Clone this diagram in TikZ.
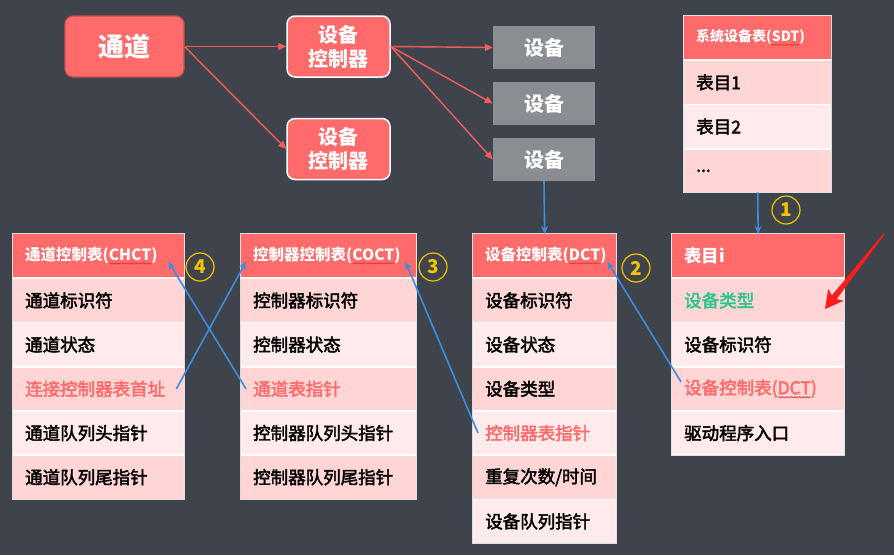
\documentclass[tikz,border=0pt]{standalone}
\usepackage{fontspec}
\setmainfont{Noto Sans CJK SC}
\newfontfamily\bodyfont{Noto Sans CJK SC}[FakeBold=2.4]
\usetikzlibrary{arrows.meta,calc,decorations.pathmorphing}

\definecolor{bgc}{RGB}{63,67,75}
\definecolor{hdr}{RGB}{255,107,107}
\definecolor{hdrline}{RGB}{196,78,78}
\definecolor{rowdk}{RGB}{255,213,213}
\definecolor{rowlt}{RGB}{255,235,235}
\definecolor{devgray}{RGB}{138,142,146}
\definecolor{linkred}{RGB}{240,94,94}
\definecolor{ptrblue}{RGB}{58,142,226}
\definecolor{markyel}{RGB}{242,196,0}
\definecolor{typegreen}{RGB}{44,196,140}
\definecolor{alertred}{RGB}{255,28,28}
\definecolor{framegray}{RGB}{222,222,226}
\definecolor{spellred}{RGB}{230,40,40}

% red wavy spell-check underline below a word
\newlength\spellwd
\newcommand\spellmark[1]{\settowidth{\spellwd}{#1}%
  \rlap{\tikz[baseline=0pt]\draw[spellred, line width=0.5pt, decorate,
        decoration={snake, amplitude=0.7pt, segment length=2.6pt}]
    (0pt,-3pt) -- (\spellwd,-3pt);}#1}

\begin{document}
\begin{tikzpicture}[x=1pt,y=-1pt,
  hdrbox/.style={anchor=north west, fill=hdr, text=white, minimum height=43pt,
    inner xsep=12pt, inner ysep=0pt, align=left, font=\fontsize{15.5}{18}\selectfont\bfseries},
  cell/.style={anchor=north west, minimum height=42.5pt, inner xsep=12pt, inner ysep=0pt,
    align=left, text=black, font=\bodyfont\fontsize{17.5}{20}\selectfont},
  dk/.style={cell, fill=rowdk},
  lt/.style={cell, fill=rowlt},
  tframe/.style={fill=white, draw=framegray, line width=1pt},
  chan/.style={rounded corners=8pt, fill=hdr, draw=hdrline, line width=1.2pt, text=white,
    minimum width=119pt, minimum height=61pt, font=\fontsize{26}{30}\selectfont\bfseries},
  ctrl/.style={rounded corners=8pt, fill=hdr, draw=white, line width=1.5pt, text=white,
    minimum width=103pt, minimum height=61pt, align=center, inner sep=0pt,
    font=\fontsize{20}{24}\selectfont\bfseries},
  dev/.style={fill=devgray, text=white, minimum width=102pt, minimum height=43pt,
    font=\fontsize{20}{24}\selectfont\bfseries},
  link/.style={draw=linkred, line width=1.4pt, -{Triangle[length=8pt,width=7pt]}},
  ptr/.style={draw=ptrblue, line width=1.6pt, -{Stealth[length=8pt,width=7pt]}},
  numc/.style={circle, draw=markyel, line width=1.2pt, text=markyel, minimum size=28pt,
    inner sep=0pt, font=\fontsize{19}{20}\selectfont\bfseries},
  alert/.style={fill=alertred}
]
\fill[bgc] (0,0) rectangle (894,555);
\useasboundingbox (0,0) rectangle (894,555);

% ---- channel, controllers, devices
\node[chan] (chan) at (124.5,46.5) {通道};
\node[ctrl] (ctl1) at (338.5,46.5) {设备\\控制器};
\node[ctrl] (ctl2) at (338.5,149) {设备\\控制器};
\node[dev] (dev1) at (544,47.5) {设备};
\node[dev] (dev2) at (544,103.5) {设备};
\node[dev] (dev3) at (544,159.5) {设备};

\draw[link] (chan.east) -- (ctl1.west);
\draw[link] (chan.east) -- (ctl2.west);
\draw[link] (ctl1.east) -- (dev1.west);
\draw[link] (ctl1.east) -- (dev2.west);
\draw[link] (ctl1.east) -- (dev3.west);

% ---- system device table
\draw[tframe] (683.5,15.5) rectangle (831.5,192.5);
\node[hdrbox, text width=123pt, font=\fontsize{14}{17}\selectfont\bfseries] (sdt-h) at (684,16) {系统设备表(\spellmark{SDT})};
\node[dk, text width=123pt] (sdt-1) at (684,61) {表目1};
\node[lt, text width=123pt] (sdt-2) at (684,105.2) {表目2};
\node[dk, text width=123pt] (sdt-3) at (684,149.4) {...};

% ---- channel control table
\draw[tframe] (12.5,233.5) rectangle (184.5,499);
\node[hdrbox, text width=147pt] (chct-h) at (13,234) {通道控制表(\spellmark{CHCT})};
\node[dk, text width=147pt] (chct-1) at (13,279) {通道标识符};
\node[lt, text width=147pt] (chct-2) at (13,323.2) {通道状态};
\node[dk, text width=147pt, text=hdr] (chct-3) at (13,367.4) {连接控制器表首址};
\node[lt, text width=147pt] (chct-4) at (13,411.6) {通道队列头指针};
\node[dk, text width=147pt] (chct-5) at (13,455.8) {通道队列尾指针};

% ---- controller control table
\draw[tframe] (240.5,233.5) rectangle (416.5,499);
\node[hdrbox, text width=151pt] (coct-h) at (241,234) {控制器控制表(\spellmark{COCT})};
\node[dk, text width=151pt] (coct-1) at (241,279) {控制器标识符};
\node[lt, text width=151pt] (coct-2) at (241,323.2) {控制器状态};
\node[dk, text width=151pt, text=hdr] (coct-3) at (241,367.4) {通道表指针};
\node[lt, text width=151pt] (coct-4) at (241,411.6) {控制器队列头指针};
\node[dk, text width=151pt] (coct-5) at (241,455.8) {控制器队列尾指针};

% ---- device control table
\draw[tframe] (472.5,233.5) rectangle (616.5,543.5);
\node[hdrbox, text width=119pt] (dct-h) at (473,234) {设备控制表(\spellmark{DCT})};
\node[dk, text width=119pt] (dct-1) at (473,279) {设备标识符};
\node[lt, text width=119pt] (dct-2) at (473,323.2) {设备状态};
\node[dk, text width=119pt] (dct-3) at (473,367.4) {设备类型};
\node[lt, text width=119pt, text=hdr] (dct-4) at (473,411.6) {控制器表指针};
\node[dk, text width=119pt] (dct-5) at (473,455.8) {重复次数/时间};
\node[lt, text width=119pt] (dct-6) at (473,500) {设备队列指针};

% ---- entry i of the system device table
\draw[tframe] (671.5,233.5) rectangle (844.5,455);
\node[hdrbox, text width=148pt, font=\fontsize{17.5}{20}\selectfont\bfseries] (ti-h) at (672,234) {表目i};
\node[dk, text width=148pt, text=typegreen] (ti-1) at (672,279) {设备类型};
\node[lt, text width=148pt] (ti-2) at (672,323.2) {设备标识符};
\node[dk, text width=148pt, text=hdr] (ti-3) at (672,367.4) {设备控制表(\spellmark{DCT})};
\node[lt, text width=148pt] (ti-4) at (672,411.6) {驱动程序入口};

% ---- pointers between the tables
\draw[ptr] (dev3.south) -- (dct-h.north);
\draw[ptr] (sdt-3.south) -- (ti-h.north);
\draw[ptr] ($(ti-3.west)+(9,-7)$) -- ($(dct-h.east)+(-9,6)$);
\draw[ptr] ($(dct-4.west)+(5,0)$) -- ($(coct-h.east)+(-11,6)$);
\draw[ptr] ($(coct-3.west)+(5,0)$) -- ($(chct-h.east)+(-16,6)$);
\draw[ptr] ($(chct-3.east)+(-8,0)$) -- ($(coct-h.west)+(5,6)$);

% ---- step numbers
\node[numc] (n1) at (786,210) {1};
\node[numc] (n2) at (636,268) {2};
\node[numc] (n3) at (433,267) {3};
\node[numc] (n4) at (200,267) {4};

% ---- hand-drawn highlight arrow pointing at the device type
\coordinate (alertTailL) at (883.4,233.6);
\coordinate (alertTailR) at (884.6,234.4);
\coordinate (alertNeckL) at (831.9,295.4);
\coordinate (alertNeckR) at (836.6,299.1);
\coordinate (alertBarbL) at (828.2,289.0);
\coordinate (alertBarbR) at (843.6,300.7);
\coordinate (alertTip) at (825,309);
\fill[alert] (alertTailL) -- (alertNeckL) -- (alertBarbL) -- (alertTip)
  -- (alertBarbR) -- (alertNeckR) -- (alertTailR) -- cycle;
\end{tikzpicture}
\end{document}
